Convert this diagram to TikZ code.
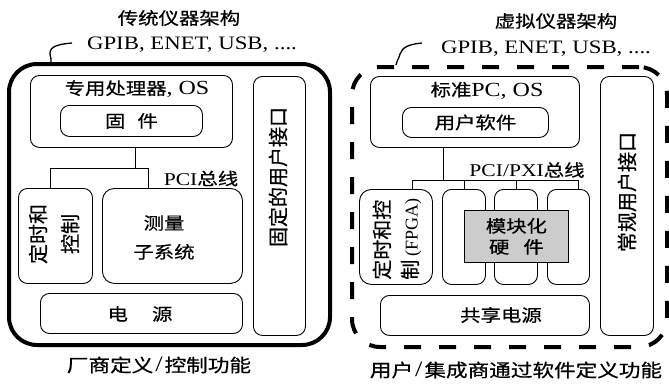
\documentclass[tikz,border=0pt]{standalone}
\usepackage{fontspec}
\setmainfont{Liberation Serif}[FakeStretch=1.2]
\newfontfamily\cjk{Noto Sans CJK SC}[FakeStretch=1.2,FakeBold=0.6]
\newfontfamily\cjkv{Noto Sans CJK SC}[FakeBold=0.6]
\newfontfamily\latv{Liberation Serif}
\begin{document}
\begin{tikzpicture}[x=1pt,y=-1pt,
  box/.style={draw, line width=0.9pt, rounded corners=9pt, inner sep=0pt, anchor=north west},
  txt/.style={inner sep=0pt, align=center, font=\cjk\fontsize{17}{21}\selectfont},
  lat/.style={inner sep=0pt, font=\fontsize{19}{22}\selectfont},
  vtxt/.style={inner sep=0pt, rotate=90, font=\cjkv\fontsize{20}{30}\selectfont},
  bus/.style={line width=0.8pt},
  squig/.style={line width=1.3pt},
  outerbox/.style={draw, line width=4pt, rounded corners=28pt, inner sep=0pt, anchor=north west},
  hwbox/.style={draw, fill=gray!40, line width=0.8pt, inner sep=0pt, anchor=north west}]
\useasboundingbox (0,0) rectangle (669,383);

% ---------------- left: traditional ----------------
\node[txt] (titleL) at (179,18) {传统仪器架构};
\node[lat] (gpibL) at (192,45) {GPIB, ENET, USB, ....};
\node[outerbox, minimum width=321pt, minimum height=281pt] (outL) at (7,62) {};
\coordinate (sqLa) at (72,43);
\coordinate (sqLb) at (51,62);
\draw[squig] (sqLa) .. controls (60,44) and (50,46) .. (50,53) .. controls (50,58) and (52,59) .. (sqLb);

\node[box, minimum width=202pt, minimum height=72pt] (proc) at (30,75) {};
\node[txt] (proct) at (137,89) {专用处理器{\fontsize{20}{22}\selectfont\rmfamily, OS}};
\node[box, minimum width=142pt, minimum height=31pt] (fw) at (60,105) {};
\node[txt] (fwt) at (fw.center) {固\hspace{12pt}件};

\node[box, minimum width=74pt, minimum height=95pt] (tim) at (18,188) {};
\node[vtxt, align=center, font=\cjkv\fontsize{20}{32}\selectfont] (timt) at (54,234) {定时和\\控制};
\node[box, minimum width=140pt, minimum height=95pt, rounded corners=12pt] (meas) at (102,188) {};
\node[txt, font=\cjk\fontsize{17}{29}\selectfont] (meast) at (164,237.5) {测量\\子系统};
\node[box, minimum width=202pt, minimum height=40pt] (pwr) at (40,293) {};
\node[txt] (pwrt) at (140,314) {电\hspace{24pt}源};
\node[box, minimum width=52pt, minimum height=259pt] (ui) at (253,76) {};
\node[vtxt] (uit) at (278,177) {固定的用户接口};

\coordinate (jL) at (135,168);
\coordinate (jL1) at (50,168);
\coordinate (jL2) at (148,168);
\draw[bus] (proc.south -| jL) -- (jL);
\draw[bus] (jL1) -- (jL2);
\draw[bus] (jL1) -- (jL1 |- tim.north);
\draw[bus] (jL2) -- (jL2 |- meas.north);
\node[inner sep=0pt] (pciL) at (201,178.5) {{\fontsize{18}{20}\selectfont PCI}{\cjk\fontsize{17}{20}\selectfont 总线}};

\node[txt, font=\cjk\fontsize{18}{21}\selectfont] (capL) at (159,365) {厂商定义\hspace{2pt}{\rmfamily\fontsize{22}{22}\selectfont /}\hspace{2pt}控制功能};

% ---------------- right: virtual ----------------
\node[txt] (titleR) at (556,21) {虚拟仪器架构};
\node[lat] (gpibR) at (546,49) {GPIB, ENET, USB, ....};
\node[outerbox, dash pattern=on 17pt off 18pt, minimum width=315pt, minimum height=280pt] (outR) at (350,65) {};
\coordinate (sqRa) at (422,43);
\coordinate (sqRb) at (396,65);
\draw[squig] (sqRa) .. controls (410,44) and (402,47) .. (400,54) .. controls (398,61) and (396,62) .. (sqRb);

\node[box, minimum width=209pt, minimum height=71pt] (pc) at (370,76) {};
\node[txt] (pct) at (487,90.5) {标准{\fontsize{20}{22}\selectfont\rmfamily PC, OS}};
\node[box, minimum width=146pt, minimum height=30pt] (sw) at (402,107) {};
\node[txt] (swt) at (sw.center) {用户软件};

\node[box, minimum width=73pt, minimum height=95pt, rounded corners=12pt] (fpga) at (359,189) {};
\node[vtxt, align=left, font=\cjkv\fontsize{20}{28}\selectfont] (fpgat) at (397,239) {定时和控\\制\,{\latv\fontsize{18}{28}\selectfont(FPGA)}};
\node[box, minimum width=43pt, minimum height=95pt] (s1) at (442,189) {};
\node[box, minimum width=43pt, minimum height=95pt] (s2) at (494,189) {};
\node[box, minimum width=42pt, minimum height=95pt] (s3) at (547,189) {};
\node[hwbox, minimum width=104pt, minimum height=52pt] (hw) at (464,210) {};
\node[txt] (hwt) at (hw.center) {模块化\\硬\hspace{14pt}件};

\node[box, minimum width=209pt, minimum height=40pt] (pwr2) at (380,295) {};
\node[txt] (pwr2t) at (501,315) {共享电源};
\node[box, minimum width=53pt, minimum height=259pt] (ui2) at (600,76) {};
\node[vtxt] (ui2t) at (627,192) {常规用户接口};

\coordinate (jR) at (443,180);
\coordinate (jR1) at (412,180);
\coordinate (jR2) at (464,180);
\coordinate (jR3) at (516,180);
\coordinate (jR4) at (578,180);
\draw[bus] (pc.south -| jR) -- (jR);
\draw[bus] (jR1) -- (jR4);
\draw[bus] (jR1) -- (jR1 |- fpga.north);
\draw[bus] (jR2) -- (jR2 |- s1.north);
\draw[bus] (jR3) -- (jR3 |- s2.north);
\draw[bus] (jR4) -- (jR4 |- s3.north);
\node[inner sep=0pt] (pciR) at (527,170) {{\fontsize{18}{20}\selectfont PCI/PXI}{\cjk\fontsize{17}{20}\selectfont 总线}};

\node[txt, font=\cjk\fontsize{18}{21}\selectfont] (capR) at (516,370) {用户\hspace{2pt}{\rmfamily\fontsize{22}{22}\selectfont /}\hspace{2pt}集成商通过软件定义功能};
\end{tikzpicture}
\end{document}
